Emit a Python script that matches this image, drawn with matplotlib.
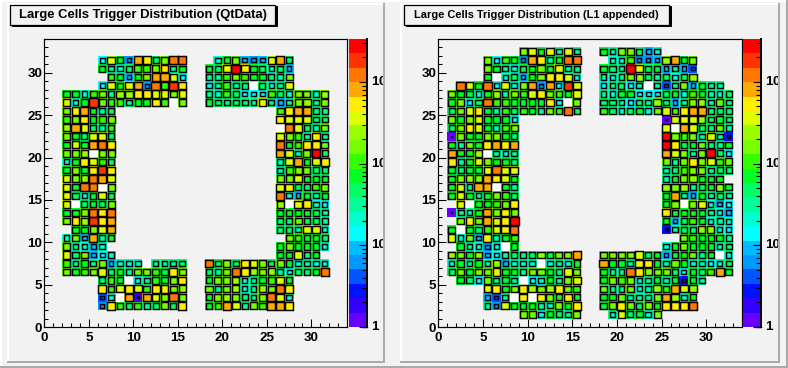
import numpy as np
from matplotlib import pyplot as plt
from matplotlib.colors import ListedColormap, LogNorm
from matplotlib.patches import Rectangle
from matplotlib.ticker import LogLocator, MultipleLocator, NullFormatter
from matplotlib.transforms import Bbox, blended_transform_factory

plt.rcParams['font.family'] = 'Liberation Sans'
plt.rcParams['font.weight'] = 'bold'
plt.rcParams['mathtext.fontset'] = 'custom'
plt.rcParams['mathtext.bf'] = 'Liberation Sans:bold'

W, H = 788, 368

band_colors = ['#6600ff', '#3300ff', '#0011ff', '#0055ff', '#0099ff', '#00bbff', '#00ffff',
               '#00ffcc', '#00ff99', '#00ff66', '#00ff22', '#33ff00', '#77ff00', '#99ff00',
               '#ddff00', '#ffee00', '#ffaa00', '#ff7700', '#ff3300', '#ff0000']
band_counts = [1.2, 1.8, 2.7, 4.1, 6.1, 9.2, 13.8, 20.7, 31, 46.7,
               70, 105, 158, 237, 356, 535, 803, 1206, 1810, 2717]
z_max = 3350
band_letters = 'abcdefghijklmnopqrst'

# each row: columns 1-15 | columns 18-32, a-t = colour band, . = no bin, _ = empty bin
qt_top_row = 31
qt_rows = [
    ".....gokeqpjmrr|.hkmfefoqj.....",
    ".....kihjllmpik|kjotpkjhjf.....",
    "......lkfkmqqog|iilmlkkjim.....",
    ".....gokoqerlsp|gilij_jhio.....",
    ".kkhlminnppoomo|ihljgggljhmmin.",
    ".ohksmllikkpl_m|kjjjjiojfimnim.",
    ".mpqkij........|........lpqqji.",
    ".lmpklm........|........pooojj.",
    ".nqojil........|........_rojim.",
    ".mkjooj........|........omlipi.",
    ".kokqrp........|........rklppm.",
    ".mmn_mm........|........qoimtj.",
    ".hkpolj........|........ioqkop.",
    ".kmkpsp........|........ilmmjj.",
    ".omnrqo........|........mmokkk.",
    ".okrr_m........|........opjjlm.",
    ".ojhkoj........|........rhfkik.",
    ".o_jkjm........|........n_ophg.",
    ".kkmrpr........|........kkkkji.",
    ".mpnspq........|........jjmjji.",
    "..kkmoq........|........jjiooh.",
    ".hmfqik........|.........mlkkj.",
    ".mihfh.........|........kmkkkh.",
    ".ojmfgh........|........kkoik..",
    ".likimfhhh_iiij|rjmjpomjmkhihh.",
    ".mklmojkimmlkpm|jimrpnmnigjjkr.",
    ".....jlk_gilkmp|kmmnhiklok.....",
    ".....plopolppmn|mimnhinmrp.....",
    ".....dh_qbqomrm|kmnmjimroh.....",
    ".....epljlijmjp|klqoimlqqp.....",
]
l1_top_row = 32
l1_rows = [
    "........mokoioi|kimmjfh........",
    "....mglkeqpikrr|.hhleefnqkm....",
    "....mkihkkmkoij|kjitojkfifd....",
    "....k_hjfkmppoh|ihimnjijgjn....",
    ".rokrgohmqeqgso|gijgi_idimfkii.",
    "mkkhknimlopmlko|ihkkgggjkhlkihj",
    "kmgjrllkkkkph_m|jjigjinjfimnimj",
    "jmopkiljlkimlrj|ljhjkhmolpqqjjj",
    "mkmokkkg.......|.......aooonjkj",
    "jmpokilm.......|.......o_qojjmi",
    "amkkmmkj.......|.......tmlmioic",
    "kimkpqpq.......|.......tpjkmjik",
    "qkkn_ihi.......|.......qomimtjg",
    "pikomkkj.......|.......mimpmolm",
    "kjkkoroo.......|.......ijlmmijj",
    "kmnmqpok.......|.......ikmnkkk.",
    "koiqq_ki.......|.......nmnijknk",
    "kokikmlj.......|.......kqifkiji",
    ".o_kklmp.......|.......km_mohfg",
    "aiikqmpm.......|.......pkkkkihf",
    ".mpmqopt.......|.......kfjlkhih",
    "k_kjlopr.......|.......cijjnnhg",
    "ohmfpikl.......|.........mlkkki",
    ".kiheh_k.......|.......hkmkkkhj",
    "nmknfgijjjnjmmq|mmmmojkfkkmik_h",
    "hkikinfhhh_hihk|qkkippkimkhighj",
    "jmkmmokkimmkjom|kiirpnmmjgkjlqk",
    ".kjgmiki_ghkimo|kmlmhikikcki...",
    "....opkmpnmnpml|miimhinlqon....",
    "....fdi_p_pmkpk|kkmiiimqnhk....",
    "....ieokkkihmkp|kmpmjmkpppr....",
    "........mmgkjim|.iojkhm........",
]

title_left = 'Large Cells Trigger Distribution (QtData)'
title_right = 'Large Cells Trigger Distribution (L1 appended)'
cbar_labels = [(1, '1'), (10, '10'), (100, r'$\mathbf{10^{2}}$'), (1000, r'$\mathbf{10^{3}}$')]

cmap = ListedColormap(band_colors)
norm = LogNorm(1, z_max)


def decode(rows, top_row):
    counts = np.full((34, 34), np.nan)
    holes = np.full((34, 34), np.nan)
    for i, row in enumerate(rows):
        y = top_row - i
        left, right = row.split('|')
        cols = list(zip(range(1, 16), left)) + list(zip(range(18, 33), right))
        for x, c in cols:
            if c == '_':
                holes[y, x] = 1
            elif c != '.':
                counts[y, x] = band_counts[band_letters.index(c)]
    return counts, holes


def px_axes(x0, x1, y0, y1):
    return fig.add_axes([x0 / W, 1 - y1 / H, (x1 - x0) / W, (y1 - y0) / H])


def draw_panel(rows, top_row, ax_x, cax_x, clip_x):
    ax = px_axes(ax_x[0], ax_x[1], 39, 327)
    ax.patch.set_visible(False)
    counts, holes = decode(rows, top_row)
    edges = np.arange(35)
    ax.pcolormesh(edges, edges, np.ma.masked_invalid(holes), cmap=ListedColormap(['white']))
    mesh = ax.pcolormesh(edges, edges, np.ma.masked_invalid(counts), cmap=cmap, norm=norm)

    # black box on every bin, side grows with log(z) like the ROOT BOX option
    for y, x in zip(*np.nonzero(~np.isnan(counts))):
        r = min(0.96, np.sqrt(np.log10(counts[y, x]) / np.log10(z_max)))
        ax.add_patch(Rectangle((x + 0.5 - r / 2, y + 0.5 - r / 2), r, r, fill=False,
                               ec='k', lw=1.05, zorder=3))

    ax.set_xlim(0, 34)
    ax.set_ylim(0, 34)
    ax.xaxis.set_major_locator(MultipleLocator(5))
    ax.xaxis.set_minor_locator(MultipleLocator(1))
    ax.yaxis.set_major_locator(MultipleLocator(5))
    ax.yaxis.set_minor_locator(MultipleLocator(1))
    ax.tick_params(which='major', direction='in', length=6, width=0.75, labelsize=9.6)
    ax.tick_params(which='minor', direction='in', length=3, width=0.75)
    ax.tick_params(axis='x', which='major', pad=3.5)
    ax.tick_params(axis='y', which='major', pad=1.5)
    for s in ax.spines.values():
        s.set_linewidth(0.85)

    cax = px_axes(cax_x[0], cax_x[1], 39, 327)
    cb = fig.colorbar(mesh, cax=cax)
    cb.outline.set_visible(False)
    cax.axvline(1, color='k', lw=1.4, clip_on=False)
    cax.plot([0.75, 1], [1, 1], color='k', lw=1.0, clip_on=False,
             transform=cax.get_yaxis_transform())
    cax.yaxis.set_major_locator(LogLocator(base=10))
    cax.yaxis.set_minor_locator(LogLocator(base=10, subs=range(2, 10), numticks=12))
    cax.yaxis.set_major_formatter(NullFormatter())
    cax.yaxis.set_minor_formatter(NullFormatter())
    cax.tick_params(which='major', direction='in', length=6, width=0.8, right=True, left=False)
    cax.tick_params(which='minor', direction='in', length=3.5, width=0.8, right=True, left=False)
    clip = Bbox([[0, 0], [clip_x, H]])
    for z, lab in cbar_labels:
        t = cax.text(cax_x[1] + 4, z, lab, fontsize=9.6, fontweight='bold', va='center', ha='left',
                     transform=blended_transform_factory(bg_px, cax.transData))
        t.set_clip_on(True)
        t.set_clip_box(clip)


fig = plt.figure(figsize=(W / 100, H / 100), dpi=100, facecolor='#f2f2f2')

# pads and bevels in pixel coordinates
bg = fig.add_axes([0, 0, 1, 1])
bg.set_xlim(0, W)
bg.set_ylim(H, 0)
bg.axis('off')
bg_px = bg.transData


def strip(x0, y0, x1, y1, color, z=1):
    bg.add_patch(Rectangle((x0, y0), x1 - x0, y1 - y0, fc=color, ec='none', zorder=z))


strip(0, 0, W, 2, 'white')
strip(0, 0, 2, H, 'white')
strip(786, 0, W, H, '#aaaaaa')
strip(0, 366, W, H, '#aaaaaa')
for x0, x1 in [(7, 385), (400, 780)]:
    strip(x0, 3, x1, 5, 'white')
    strip(x0, 3, x0 + 2, 363, 'white')
    strip(x1 - 2, 3, x1, 363, '#aaaaaa')
    strip(x0, 361, x1, 363, '#aaaaaa')

draw_panel(qt_rows, qt_top_row, (44.3, 347), (349, 366.7), 383)
draw_panel(l1_rows, l1_top_row, (438.3, 742), (743, 760.7), 778)

# title boxes with drop shadow
for x0, x1, txt, size in [(10, 275, title_left, 9.4), (404, 669, title_right, 7.95)]:
    bg.add_patch(Rectangle((x0 + 2, 6), x1 - x0, 20, fc='k', ec='k', lw=0.7, zorder=5))
    bg.add_patch(Rectangle((x0, 4.5), x1 - x0, 20, fc='#f2f2f2', ec='k', lw=0.9, zorder=6))
    bg.text((x0 + x1) / 2, 15, txt, fontsize=size, fontweight='bold', ha='center', va='center', zorder=7)

bg.set_zorder(0)
fig.savefig('out.png', dpi=100, facecolor=fig.get_facecolor())
